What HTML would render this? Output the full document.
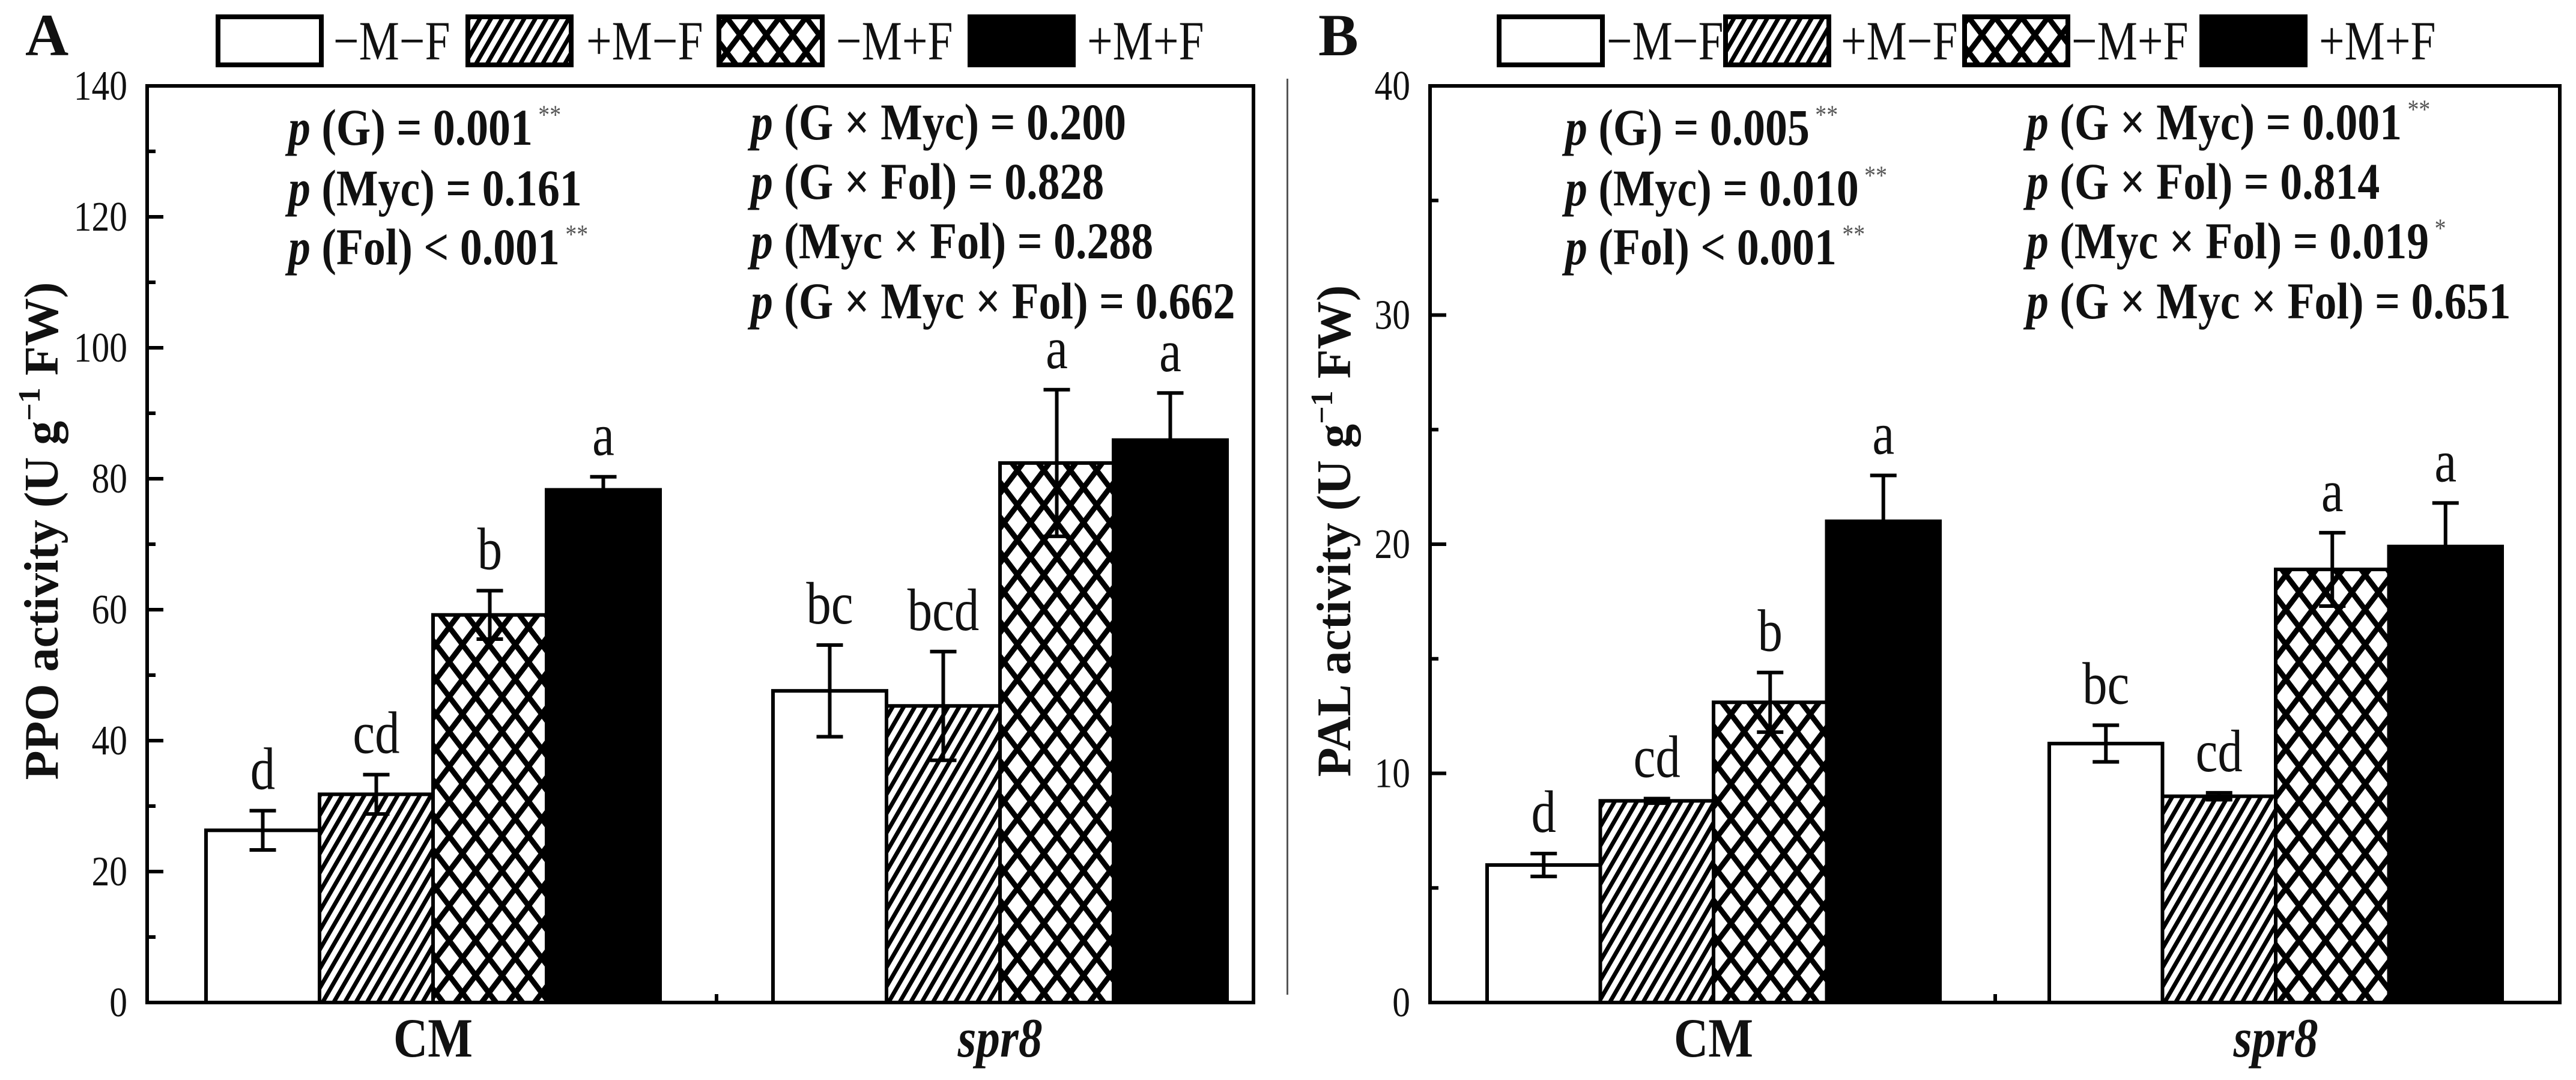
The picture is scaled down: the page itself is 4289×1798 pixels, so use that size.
<!DOCTYPE html>
<html><head><meta charset="utf-8">
<style>
html,body{margin:0;padding:0;background:#fff;}
svg{display:block;}
text{font-family:"Liberation Serif","Times New Roman",serif;fill:#111;}
</style></head>
<body>
<svg id="fig" width="4289" height="1798" viewBox="0 0 4289 1798" xmlns="http://www.w3.org/2000/svg">
<defs>
<pattern id="hatch" patternUnits="userSpaceOnUse" width="16" height="16" patternTransform="rotate(30)">
<rect width="16" height="16" fill="#fff"/><rect x="0" y="0" width="7" height="16" fill="#000"/>
</pattern>
<pattern id="cross" patternUnits="userSpaceOnUse" width="44" height="58">
<rect width="44" height="58" fill="#fff"/>
<path d="M-44,-58 L88,116 M88,-58 L-44,116" stroke="#000" stroke-width="9"/>
</pattern>
</defs>
<rect x="2142" y="131" width="3" height="1525" fill="#555"/>
</svg>
<script>
const treatments = ['−M−F','+M−F','−M+F','+M+F'];
const categories = ['CM','spr8'];
const valsA = [26.3,31.8,59.2,78.3,47.6,45.3,82.4,85.9];
const errA = [3.0,3.0,3.7,2.0,7.0,8.3,11.2,7.2];
const lettersA = ['d','cd','b','a','bc','bcd','a','a'];
const ticksA = [0,20,40,60,80,100,120,140];
const valsB = [6.0,8.8,13.1,21.0,11.3,9.0,18.9,19.9];
const errB = [0.5,0.1,1.3,2.0,0.8,0.15,1.6,1.9];
const lettersB = ['d','cd','b','a','bc','cd','a','a'];
const ticksB = [0,10,20,30,40];
const statsLeftA = [['(G) = 0.001','**'],['(Myc) = 0.161',''],['(Fol) < 0.001','**']];
const statsRightA = [['(G × Myc) = 0.200',''],['(G × Fol) = 0.828',''],['(Myc × Fol) = 0.288',''],['(G × Myc × Fol) = 0.662','']];
const statsLeftB = [['(G) = 0.005','**'],['(Myc) = 0.010','**'],['(Fol) < 0.001','**']];
const statsRightB = [['(G × Myc) = 0.001','**'],['(G × Fol) = 0.814',''],['(Myc × Fol) = 0.019','*'],['(G × Myc × Fol) = 0.651','']];

const NS='http://www.w3.org/2000/svg';
const svg=document.getElementById('fig');
function mk(tag,attrs,parent){const e=document.createElementNS(NS,tag);for(const k in attrs)e.setAttribute(k,attrs[k]);(parent||svg).appendChild(e);return e;}
const fills=['#fff','url(#hatch)','url(#cross)','#000'];

function panel(cfg){
  const g=mk('g',{});
  
  
  const L=cfg.L,R=cfg.R,T=143,B=1669,max=cfg.max;
  const y=v=>B-v*(B-T)/max;
  cfg.vals.forEach((v,k)=>{
    const gi=Math.floor(k/4),ti=k%4;
    const x=cfg.centers[gi]-2*cfg.bw+ti*cfg.bw;
    const r=mk('rect',{x:x,y:y(v),width:cfg.bw,height:B-y(v),fill:fills[ti],stroke:'#000','stroke-width':6},g);
    
    
  });
  cfg.vals.forEach((v,k)=>{
    const gi=Math.floor(k/4),ti=k%4;
    const cx=cfg.centers[gi]-2*cfg.bw+ti*cfg.bw+cfg.bw/2;
    const e=cfg.err[k];
    const eg=mk('g',{stroke:'#000','stroke-width':6},g);
    
    
    mk('line',{x1:cx,x2:cx,y1:y(v-e),y2:y(v+e)},eg);
    mk('line',{x1:cx-22,x2:cx+22,y1:y(v+e),y2:y(v+e)},eg);
    mk('line',{x1:cx-22,x2:cx+22,y1:y(v-e),y2:y(v-e)},eg);
    const t=mk('text',{transform:`translate(${cx},${y(v+e)-36}) scale(0.9,1.08)`,'font-size':92,'text-anchor':'middle'},g);
    t.textContent=cfg.letters[k];
    
    
  });
  const f=mk('rect',{x:L,y:T,width:R-L,height:B-T,fill:'none',stroke:'#000','stroke-width':6},g);
  
  
  const step=cfg.ticks[1]-cfg.ticks[0];
  cfg.ticks.forEach((tv,i)=>{
    mk('line',{x1:L,x2:L+27,y1:y(tv),y2:y(tv),stroke:'#000','stroke-width':6},g);
    if(i<cfg.ticks.length-1) mk('line',{x1:L,x2:L+14,y1:y(tv+step/2),y2:y(tv+step/2),stroke:'#000','stroke-width':6},g);
    const t=mk('text',{transform:`translate(${L-33},${y(tv)+23}) scale(0.85,1)`,'font-size':70,'text-anchor':'end'},g);
    t.textContent=tv;
    
    
  });
  mk('line',{x1:cfg.mid,x2:cfg.mid,y1:B,y2:B-14,stroke:'#000','stroke-width':6},g);
  categories.forEach((c,i)=>{
    const t=mk('text',{transform:`translate(${cfg.centers[i]},1759) scale(0.9,1.05)`,'font-size':88,'font-weight':'bold','text-anchor':'middle','font-style':i==1?'italic':'normal'},g);
    t.textContent=c;
    
    
  });
  const yt=mk('text',{transform:`translate(${cfg.yx},${cfg.yc}) rotate(-90)`,'font-size':80,'font-weight':'bold','text-anchor':'middle'},g);
  yt.innerHTML=cfg.ylabel+' (U g<tspan font-size="52" dy="-30">−1</tspan><tspan dy="30"> FW)</tspan>';
  
  
  const pl=mk('text',{x:cfg.letterX,y:92,'font-size':100,'font-weight':'bold'},g);
  pl.textContent=cfg.letter;
  
  
  treatments.forEach((tr,i)=>{
    const lg=mk('g',{},g);
    
    
    mk('rect',{x:cfg.legBox[i],y:28,width:cfg.legW,height:80,fill:fills[i],stroke:'#000','stroke-width':8},lg);
    const t=mk('text',{transform:`translate(${cfg.legTxt[i]},99) scale(0.9,1.1)`,'font-size':84},lg);
    t.textContent=tr;
  });
  function stats(arr,x,ys){
    arr.forEach((s,i)=>{
      const t=mk('text',{transform:`translate(${x},${ys[i]}) scale(0.9,1.05)`,'font-size':82,'font-weight':'bold'},g);
      t.innerHTML='<tspan font-style="italic">p</tspan> '+s[0]+(s[1]?'<tspan font-size="42" font-weight="normal" fill="#555" dy="-34"> '+s[1]+'</tspan>':'');
      
      
    });
  }
  stats(cfg.sl,cfg.slx,[241,342,440]);
  stats(cfg.sr,cfg.srx,[232,331,430,530]);
}
panel({name:'panel-a-ppo',L:245,R:2087,max:140,vals:valsA,err:errA,letters:lettersA,ticks:ticksA,
  centers:[721,1665],bw:189,mid:1193,yx:96,yc:884,ylabel:'PPO activity',letter:'A',letterX:42,
  legBox:[363,779,1197,1615],legTxt:[555,976,1392,1810],legW:172,sl:statsLeftA,sr:statsRightA,slx:480,srx:1250});
panel({name:'panel-b-pal',L:2381,R:4262,max:40,vals:valsB,err:errB,letters:lettersB,ticks:ticksB,
  centers:[2853,3789],bw:188.5,mid:3322,yx:2248,yc:884,ylabel:'PAL activity',letter:'B',letterX:2195,
  legBox:[2496,2873,3271,3666],legTxt:[2675,3065,3449,3861],legW:172,sl:statsLeftB,sr:statsRightB,slx:2606,srx:3374});
</script>
</body></html>
